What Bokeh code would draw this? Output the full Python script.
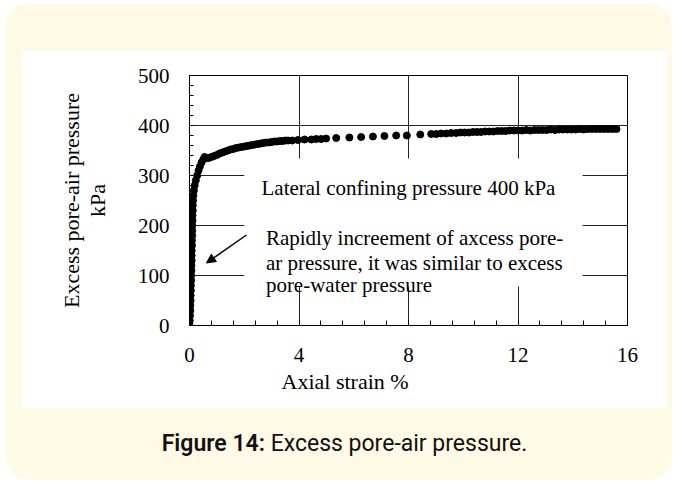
from bokeh.plotting import figure
from bokeh.models import (Range1d, SingleIntervalTicker, BoxAnnotation, Title, Arrow,
                          NormalHead, ColumnDataSource, Div)
from bokeh.layouts import column
from bokeh.core.properties import value
from bokeh.embed import file_html
from bokeh.resources import INLINE

# ---------------- data ----------------
strain = [0.00, 0.01, 0.02, 0.03, 0.03, 0.04, 0.04, 0.05, 0.05, 0.06, 0.06, 0.07, 0.07,
          0.08, 0.08, 0.08, 0.09, 0.09, 0.10, 0.10, 0.10, 0.11, 0.11, 0.12, 0.12, 0.13,
          0.14, 0.16, 0.19, 0.23, 0.28, 0.33, 0.38, 0.44, 0.50, 0.55,
          0.62, 0.70, 0.80, 0.90, 1.00, 1.10, 1.20, 1.30, 1.40, 1.50, 1.60, 1.70, 1.80,
          1.90, 2.00, 2.10, 2.20, 2.30, 2.40, 2.50, 2.60, 2.70, 2.80, 2.90, 3.00, 3.10,
          3.20, 3.30, 3.40, 3.50, 3.60, 3.75,
          3.96, 4.20, 4.45, 4.63, 4.81, 4.99, 5.36, 5.84, 6.27, 6.70, 7.12, 7.55, 7.94,
          8.43, 8.83, 9.01, 9.19, 9.38, 9.56, 9.74,
          9.90, 10.05, 10.20, 10.35, 10.50, 10.65, 10.80, 10.95, 11.10, 11.25, 11.40,
          11.55, 11.70, 11.85, 12.00, 12.15, 12.30, 12.45, 12.60, 12.75, 12.90, 13.05,
          13.20, 13.35, 13.50, 13.65, 13.80, 13.95, 14.10, 14.25, 14.40, 14.55, 14.70,
          14.85, 15.00, 15.15, 15.30, 15.45, 15.60]
pressure = [0, 10, 20, 30, 40, 50, 60, 70, 80, 90, 100, 110, 120,
            130, 140, 150, 160, 170, 180, 190, 200, 210, 220, 230, 240, 250,
            260, 270, 280, 290, 300, 310, 318, 326, 332, 337,
            335, 335, 337, 339, 341, 344, 346, 348, 350, 352, 353, 355, 356,
            357, 358, 359, 360, 361, 362, 363, 364, 365, 366, 366, 367, 368,
            368, 369, 369, 370, 370, 370,
            371, 372, 372, 373, 373, 374, 375, 376, 377, 378, 379, 380, 380,
            382, 383, 383, 384, 384, 385, 385,
            386, 386, 386, 387, 387, 387, 388, 388, 388, 389, 389,
            389, 390, 390, 390, 390, 391, 390, 391, 391, 391, 391,
            392, 391, 392, 392, 392, 392, 392, 393, 392, 393, 393,
            393, 393, 393, 393, 393, 393]

note_lines = ["Lateral confining pressure 400 kPa",
              "Rapidly increement of axcess pore-",
              "ar pressure, it was similar to excess",
              "pore-water pressure"]
note_x = [2.63, 2.79, 2.79, 2.79]
note_y = [275, 175, 125, 81]

x_title = "Axial strain %"
y_title = "Excess pore-air pressure\nkPa"
caption_bold = "Figure 14:"
caption_text = "Excess pore-air pressure."

SERIF = "Liberation Serif"
CREAM = "#fffae6"

# ---------------- figure ----------------
p = figure(width=645, height=358, x_range=Range1d(0, 16), y_range=Range1d(0, 500),
           output_backend="svg", toolbar_location=None,
           min_border_left=167, min_border_right=40, min_border_top=25, min_border_bottom=83,
           background_fill_color="white", border_fill_color="white",
           outline_line_color="black", outline_line_width=1,
           margin=(46, 5, 0, 16))

xt = SingleIntervalTicker(interval=4, num_minor_ticks=5)
yt = SingleIntervalTicker(interval=100, num_minor_ticks=5)
p.xaxis.ticker = xt
p.yaxis.ticker = yt
p.xgrid.ticker = xt
p.ygrid.ticker = yt
for g in (p.xgrid, p.ygrid):
    g.grid_line_color = "#222222"
    g.grid_line_width = 1

for ax in (p.xaxis, p.yaxis):
    ax.axis_line_color = "black"
    ax.major_tick_in = 0
    ax.major_tick_out = 0
    ax.minor_tick_in = 5
    ax.minor_tick_out = 0
    ax.minor_tick_line_color = "black"
    ax.major_label_text_font = SERIF
    ax.major_label_text_font_size = "21px"
    ax.major_label_text_color = "black"

p.xaxis.major_label_standoff = 22
p.yaxis.major_label_standoff = 20
p.yaxis.minor_tick_in = 4

p.yaxis.axis_label = y_title
p.yaxis.axis_label_text_font = SERIF
p.yaxis.axis_label_text_font_size = "22px"
p.yaxis.axis_label_text_font_style = "normal"
p.yaxis.axis_label_text_color = "black"
p.yaxis.axis_label_text_align = "center"
p.yaxis.axis_label_text_line_height = 1.05
p.yaxis.axis_label_standoff = 25

# x-axis title, placed left of centre as in the original
p.add_layout(Title(text=x_title, align="left", offset=92, standoff=5,
                   text_font=SERIF, text_font_size="22px", text_font_style="normal",
                   text_color="black"), "below")

# white box that hides grid lines behind the notes
box = BoxAnnotation(left=2.0, right=14.36, bottom=78, top=334, fill_color="white",
                    fill_alpha=1.0, line_color=None, level="underlay")
p.add_layout(box)

src = ColumnDataSource(data=dict(x=strain, y=pressure))
p.scatter("x", "y", source=src, size=7, color="black")

nsrc = ColumnDataSource(data=dict(x=note_x, y=note_y, t=note_lines))
p.text("x", "y", text="t", source=nsrc, text_font=value(SERIF),
       text_font_size=value("21px"), text_color="black",
       text_baseline="alphabetic", text_align="left")

p.add_layout(Arrow(end=NormalHead(size=9, fill_color="black", line_color="black"),
                   x_start=2.08, y_start=181, x_end=0.62, y_end=125,
                   line_width=1.5, line_color="black"))

cap = Div(text=('<div style="width:645px;padding-top:22px;text-align:center;'
                'font-family:Roboto,sans-serif;'
                'font-size:23px;line-height:27px;color:#111;">'
                '<b style="font-weight:600">' + caption_bold + '</b> ' + caption_text + '</div>'),
          width=645, height=72, margin=(0, 5, 0, 16),
          styles={"text-align": "center"})

layout = column(p, cap, spacing=0, margin=(4, 0, 0, 6),
                styles={"background-color": CREAM, "border-radius": "22px"})

open("out.html", "w").write(file_html(layout, INLINE))
